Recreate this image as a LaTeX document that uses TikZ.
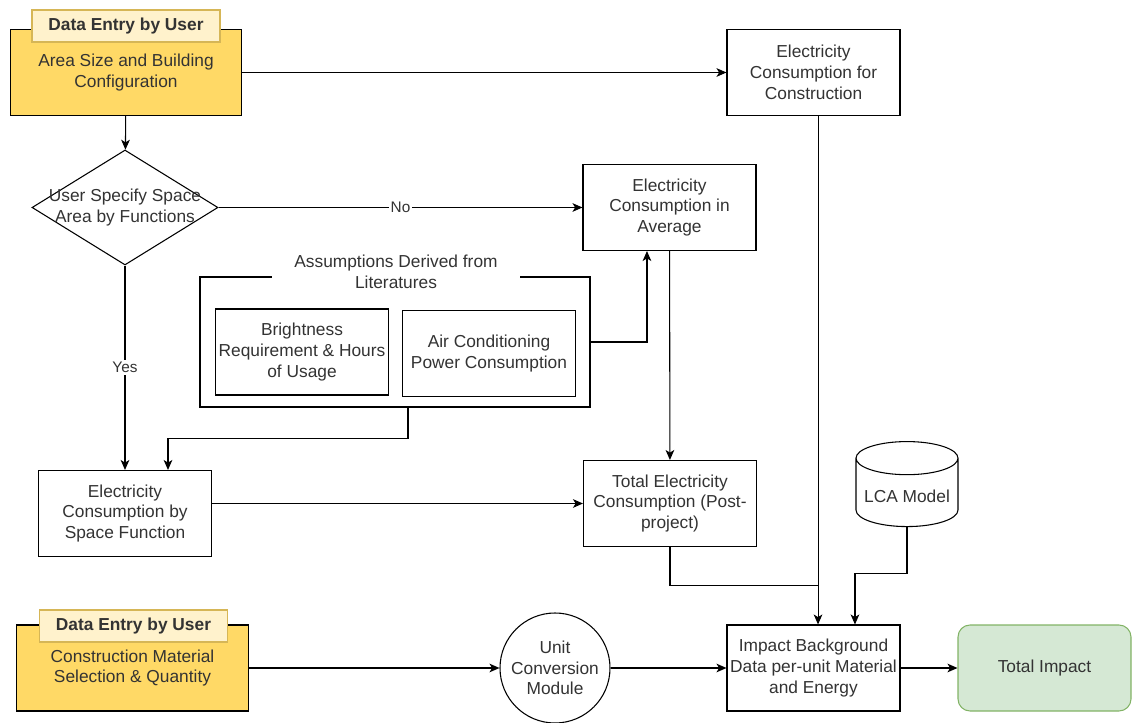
\documentclass[tikz,border=0pt]{standalone}
\usepackage{fontspec}
\setmainfont{Liberation Sans}
\usetikzlibrary{positioning, arrows.meta, shapes.geometric, calc}
\definecolor{ink}{HTML}{333333}
\definecolor{entryfill}{HTML}{FFD966}
\definecolor{tagfill}{HTML}{FFF2CC}
\definecolor{tagline}{HTML}{D6B656}
\definecolor{donefill}{HTML}{D5E8D4}
\definecolor{doneline}{HTML}{82B366}

\begin{document}
\begin{tikzpicture}[x=0.75pt, y=-0.75pt,
      every node/.style={font=\fontsize{13}{15.6}\selectfont, text=ink, align=center},
      box/.style={draw=black, line width=0.8pt, minimum width=129.75pt, minimum height=64.5pt,
                  inner sep=2pt, fill=white},
      entry/.style={box, fill=entryfill, minimum width=173.5pt},
      tag/.style={draw=tagline, line width=0.8pt, fill=tagfill, minimum width=141pt, minimum height=24pt,
                  inner sep=1pt, font=\fontsize{13}{15.6}\selectfont\bfseries},
      decision/.style={diamond, draw=black, line width=0.8pt, minimum width=139.5pt,
                       minimum height=86.25pt, inner sep=0pt, fill=white},
      store/.style={cylinder, shape border rotate=90, aspect=0.35, draw=black, line width=0.8pt,
                    minimum width=76.5pt, minimum height=63.75pt, fill=white},
      module/.style={circle, draw=black, line width=0.8pt, minimum size=82.5pt, inner sep=0pt, fill=white},
      result/.style={box, fill=donefill, draw=doneline, rounded corners=9pt},
      edgetxt/.style={fill=white, inner sep=1.5pt, font=\fontsize{11.5}{13.8}\selectfont},
      line/.style={line width=0.8pt, color=black},
      arr/.style={line, -{Stealth[length=7.5pt, width=6.5pt, inset=2pt]}}]
    \useasboundingbox (0,0) rectangle (1136,723);

    \node[entry] (area) at (126,72.5) {Area Size and Building\\Configuration};
    \node[tag] (tag1) at (126,26) {Data Entry by User};
    \node[box] (elecCons) at (813.5,72.5) {Electricity\\Consumption for\\Construction};
    \node[decision, label={[align=center]center:User Specify Space\\Area by Functions}] (dec) at (125,207.5) {};
    \node[box] (elecAvg) at (669.5,207.5) {Electricity\\Consumption in\\Average};
    \node[box, fill=none, minimum width=292.5pt, minimum height=97.5pt] (asm) at (395,342) {};
    \node[fill=white, minimum width=186pt, inner ysep=1pt] (asmTitle) at (396,272) {Assumptions Derived from\\Literatures};
    \node[box] (bright) at (302,352) {Brightness\\Requirement \& Hours\\of Usage};
    \node[box] (air) at (489,353.5) {Air Conditioning\\Power Consumption};
    \node[box] (elecSpace) at (125,513.5) {Electricity\\Consumption by\\Space Function};
    \node[box] (totalElec) at (670,503.5) {Total Electricity\\Consumption (Post-\\project)};
    \node[store] (lca) at (907,496) {LCA Model};
    \node[box] (impact) at (813.5,668) {Impact Background\\Data per-unit Material\\and Energy};
    \node[entry] (material) at (132.5,668) {Construction Material\\Selection \& Quantity};
    \node[tag] (tag2) at (133.5,626) {Data Entry by User};
    \node[module] (unit) at (555,668) {Unit\\Conversion\\Module};
    \node[result] (total) at (1044.5,668) {Total Impact};

    \draw[arr] (area) -- (elecCons);
    \draw[arr] (area) -- (dec);
    \draw[arr] (dec) -- node[edgetxt] {No} (elecAvg);
    \draw[arr] (dec) -- node[edgetxt] {Yes} (elecSpace);
    \draw[arr] (asm.east) -| ([xshift=-16.9pt]elecAvg.south);
    \draw[arr] ([xshift=9.75pt]asm.south) -- ++(0,31) -| ([xshift=32.25pt]elecSpace.north);
    \draw[arr] (elecAvg) -- (totalElec);
    \draw[arr] (elecSpace.east |- totalElec.west) -- (totalElec.west);
    \draw[line] (totalElec.south) -- ++(0,38) -- ++(148,0);
    \draw[arr] ([xshift=3.4pt]elecCons.south) -- ([xshift=3.4pt]impact.north);
    \draw[arr] (lca.south) |- ++(0,46) -| ([xshift=31.1pt]impact.north);
    \draw[arr] (material) -- (unit);
    \draw[arr] (unit) -- (impact);
    \draw[arr] (impact) -- (total);
  \end{tikzpicture}
\end{document}
